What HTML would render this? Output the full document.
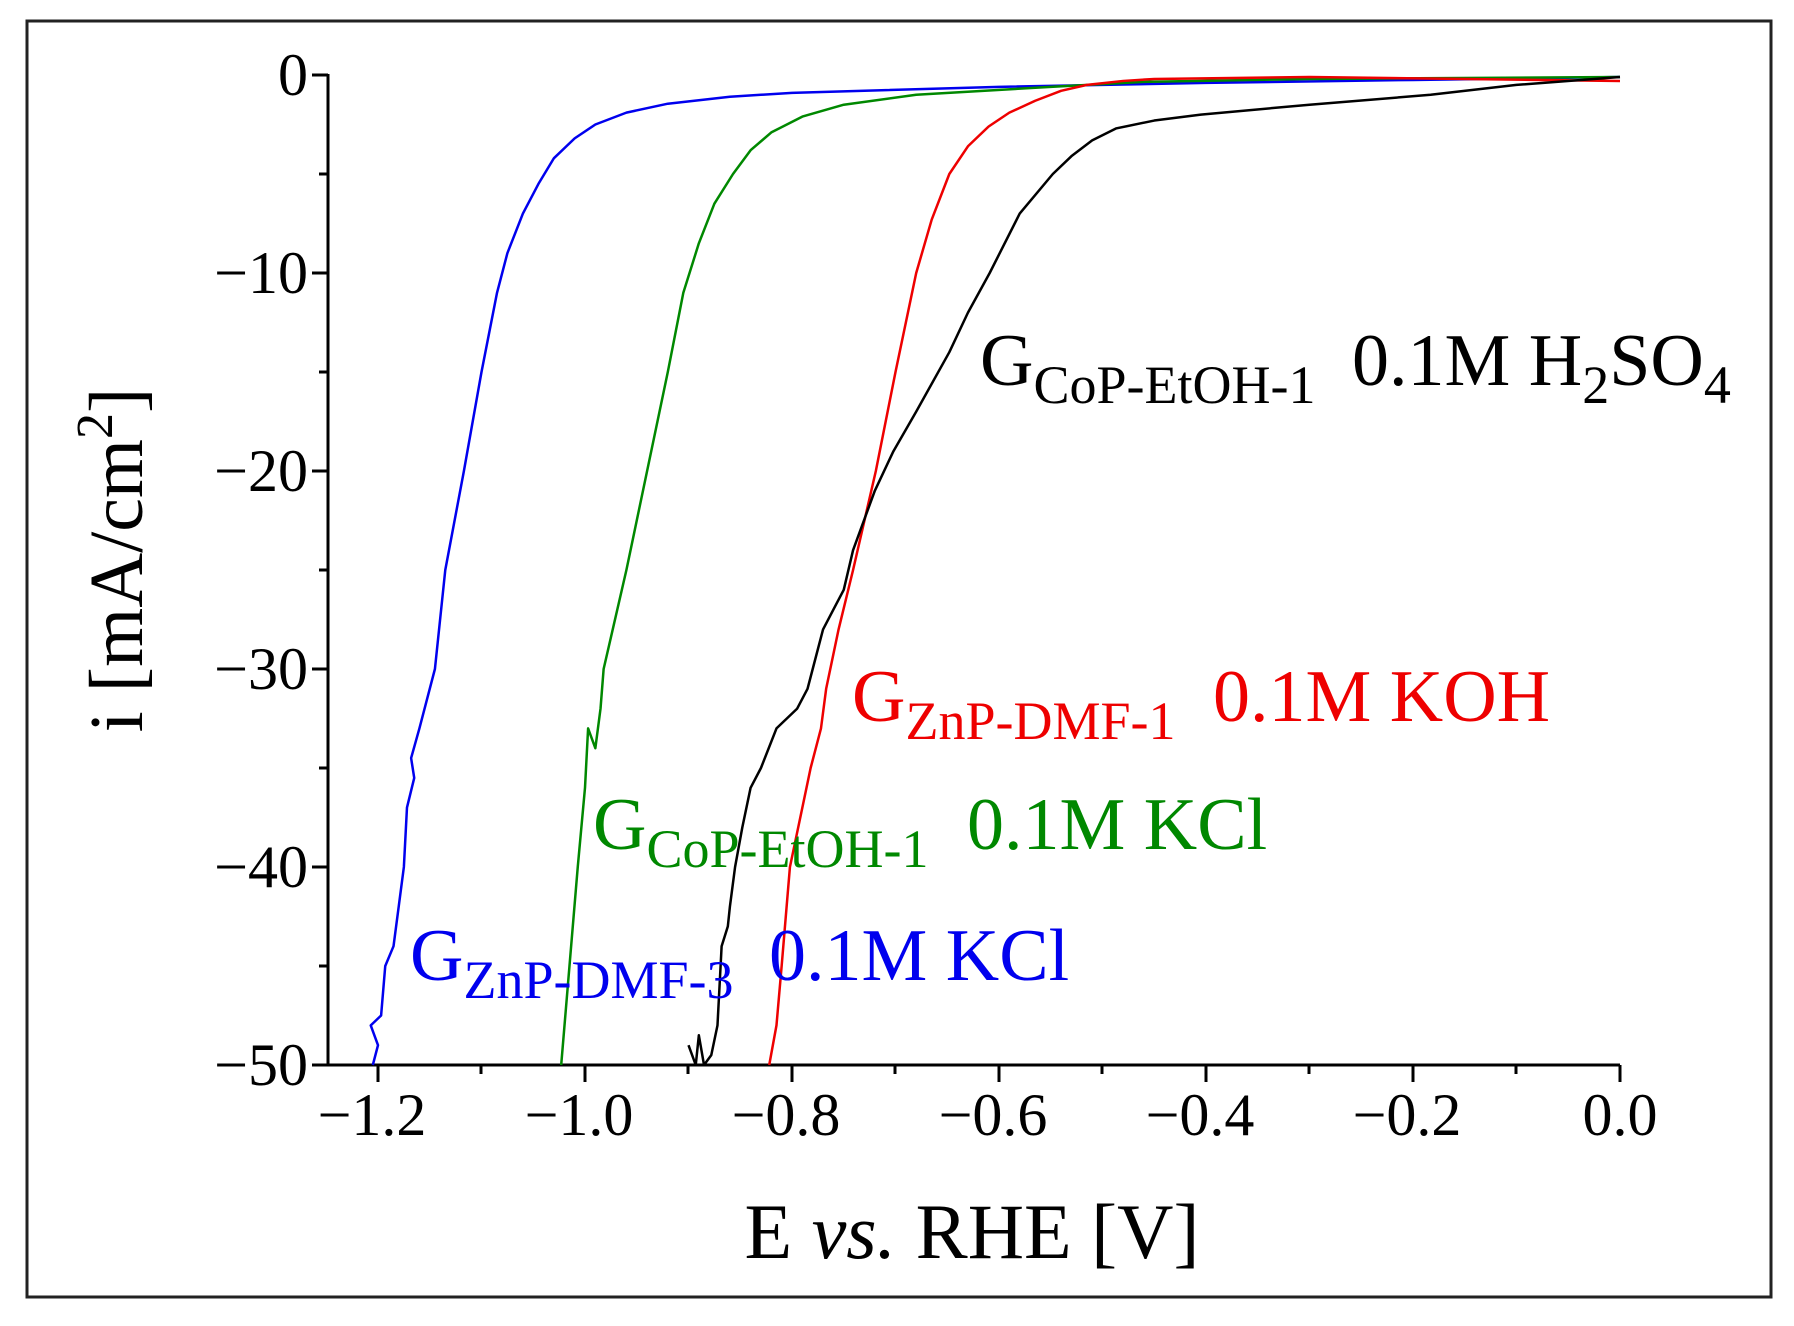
<!DOCTYPE html><html><head><style>body{margin:0;background:#fff}svg{display:block}text{font-family:"Liberation Serif",serif}</style></head><body>
<svg width="1794" height="1326" viewBox="0 0 1794 1326">
<rect x="27" y="21" width="1744" height="1276" fill="#fff" stroke="#222" stroke-width="3"/>
<g stroke="#000" stroke-width="3" fill="none">
<path d="M328,74V1065H1620"/>
<path d="M378,1065v17M585,1065v17M792,1065v17M999,1065v17M1206,1065v17M1413,1065v17M1620,1065v17"/>
<path d="M481,1065v9M688,1065v9M895,1065v9M1102,1065v9M1309,1065v9M1516,1065v9"/>
<path d="M328,75h-16M328,273h-16M328,471h-16M328,669h-16M328,867h-16M328,1065h-16"/>
<path d="M328,174h-9M328,372h-9M328,570h-9M328,768h-9M328,966h-9"/>
</g>
<g font-size="60" text-anchor="middle">
<text x="372" y="1135">−1.2</text><text x="579" y="1135">−1.0</text><text x="786" y="1135">−0.8</text><text x="993" y="1135">−0.6</text><text x="1200" y="1135">−0.4</text><text x="1407" y="1135">−0.2</text><text x="1620" y="1135">0.0</text>
</g>
<g font-size="60" text-anchor="end">
<text x="308" y="95">0</text><text x="308" y="293">−10</text><text x="308" y="491">−20</text><text x="308" y="689">−30</text><text x="308" y="887">−40</text><text x="308" y="1085">−50</text>
</g>
<text x="972" y="1258" font-size="78" text-anchor="middle">E <tspan font-style="italic">vs.</tspan> RHE [V]</text>
<text transform="translate(142,560) rotate(-90)" font-size="76" text-anchor="middle">i [mA/cm<tspan dy="-30" font-size="52">2</tspan><tspan dy="30">]</tspan></text>
<g fill="none" stroke-width="2.5" stroke-linejoin="round">
<polyline stroke="#0000ee" transform="translate(1620,75) scale(1035,19.8)" vector-effect="non-scaling-stroke" points="-1.205,50 -1.2,49 -1.207,48 -1.197,47.5 -1.193,45 -1.185,44 -1.18,42 -1.175,40 -1.172,37 -1.165,35.5 -1.168,34.5 -1.16,33 -1.145,30 -1.135,25 -1.117,20 -1.1,15 -1.085,11 -1.075,9 -1.06,7 -1.045,5.5 -1.03,4.2 -1.01,3.2 -0.99,2.5 -0.96,1.9 -0.92,1.45 -0.86,1.1 -0.8,0.9 -0.6,0.6 -0.4,0.4 -0.2,0.25 0,0.1"/>
<polyline stroke="#008800" transform="translate(1620,75) scale(1035,19.8)" vector-effect="non-scaling-stroke" points="-1.023,50 -1.015,45 -1.007,40 -1.0,36 -0.997,33 -0.99,34 -0.985,32 -0.982,30 -0.96,25 -0.94,20 -0.92,15 -0.905,11 -0.89,8.5 -0.875,6.5 -0.857,5 -0.84,3.8 -0.82,2.9 -0.79,2.1 -0.75,1.5 -0.68,1 -0.55,0.6 -0.46,0.35 -0.3,0.2 0,0.1"/>
<polyline stroke="#ee0000" transform="translate(1620,75) scale(1035,19.8)" vector-effect="non-scaling-stroke" points="-0.822,50 -0.815,48 -0.81,45 -0.802,40 -0.79,37 -0.782,35 -0.772,33 -0.767,31 -0.755,28 -0.741,25 -0.719,20 -0.7,15 -0.68,10 -0.665,7.3 -0.648,5 -0.63,3.6 -0.61,2.6 -0.59,1.9 -0.565,1.3 -0.54,0.8 -0.515,0.5 -0.48,0.3 -0.45,0.2 -0.3,0.1 0,0.3"/>
<polyline stroke="#000" transform="translate(1620,75) scale(1035,19.8)" vector-effect="non-scaling-stroke" points="-0.9,49 -0.893,50 -0.89,48.5 -0.885,50 -0.878,49.5 -0.872,48 -0.87,46 -0.868,44 -0.862,43 -0.86,42 -0.855,40 -0.848,38 -0.84,36 -0.83,35 -0.815,33 -0.795,32 -0.785,31 -0.78,30 -0.77,28 -0.76,27 -0.75,26 -0.741,24 -0.72,21 -0.702,19 -0.68,17 -0.648,14 -0.63,12 -0.609,10 -0.58,7 -0.548,5 -0.53,4.1 -0.51,3.3 -0.487,2.7 -0.45,2.3 -0.405,2 -0.3,1.5 -0.183,1 -0.1,0.5 0,0.1"/>
</g>
<text x="980" y="385" font-size="74">G<tspan dy="18" font-size="54">CoP-EtOH-1</tspan></text>
<text x="1352" y="385" font-size="74">0.1M H<tspan dy="18" font-size="54">2</tspan><tspan dy="-18">SO</tspan><tspan dy="18" font-size="54">4</tspan></text>
<g fill="#ee0000"><text x="852" y="721" font-size="74">G<tspan dy="18" font-size="54">ZnP-DMF-1</tspan></text><text x="1213" y="721" font-size="74">0.1M KOH</text></g>
<g fill="#008800"><text x="593" y="849" font-size="74">G<tspan dy="18" font-size="54">CoP-EtOH-1</tspan></text><text x="967" y="849" font-size="74">0.1M KCl</text></g>
<g fill="#0000ee"><text x="410" y="980" font-size="74">G<tspan dy="18" font-size="54">ZnP-DMF-3</tspan></text><text x="769" y="980" font-size="74">0.1M KCl</text></g>
</svg></body></html>
